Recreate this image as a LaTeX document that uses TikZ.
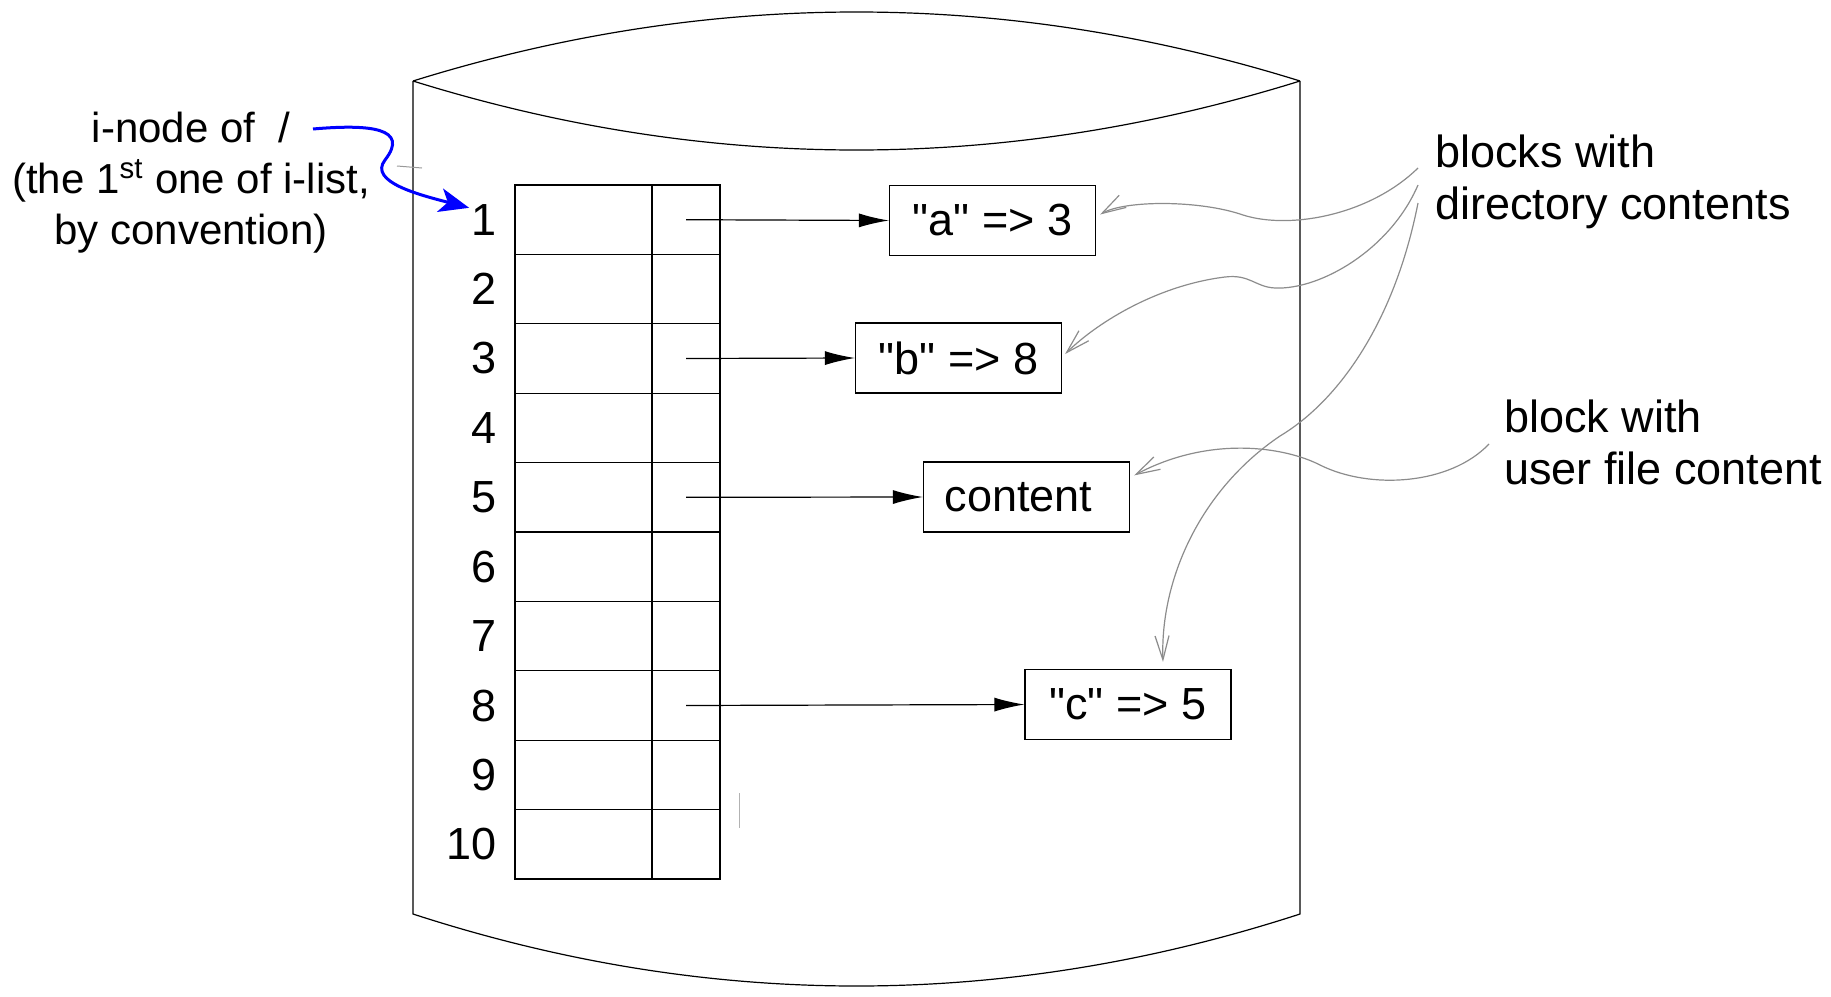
\documentclass[tikz,border=0pt]{standalone}
\usepackage{fontspec}
\setmainfont{Liberation Sans}[Ligatures=TeXOff]
\usetikzlibrary{arrows.meta,calc}
\begin{document}
\begin{tikzpicture}[x=0.5pt,y=-0.5pt,
  every node/.style={font=\fontsize{22.5}{26}\selectfont},
  ink/.style={line width=0.6pt, draw=black},
  cellname/.style={draw, line width=0.6pt, minimum width=68.5pt, minimum height=34.7pt, inner sep=0pt},
  cellptr/.style={draw, line width=0.6pt, minimum width=34pt, minimum height=34.7pt, inner sep=0pt},
  rowno/.style={anchor=east, inner sep=0pt},
  blockbox/.style={draw, line width=0.6pt, minimum width=103pt, minimum height=35pt, inner sep=0pt},
  ptr/.style={line width=0.6pt, -{Latex[length=15pt,width=7pt]}},
  note/.style={align=left, inner sep=0pt, anchor=west},
  hint/.style={draw=black!45, line width=0.6pt, -{Straight Barb[length=12pt,width=7pt]}},
  rootarrow/.style={draw=blue, line width=1.5pt, -{Stealth[length=15pt,width=12pt,inset=4pt]}}
]
\useasboundingbox (0,0) rectangle (1831,996);

% disk drawn as a cylinder
\draw[ink] (413,81) .. controls (708.3,-11) and (1004.7,-11) .. (1300,81);
\draw[ink] (413,81) .. controls (708.3,173) and (1004.7,173) .. (1300,81);
\draw[ink] (413,81) -- (413,914) .. controls (708.3,1010) and (1004.7,1010) .. (1300,914) -- (1300,81);

% faint marks
\draw[black!40, line width=0.5pt] (397,166) -- (422,168);
\draw[black!30, line width=0.5pt] (739,793) -- (739,828);

% i-list table
\foreach \i in {1,...,10} {
  \node[cellname] (c\i) at (583.5,{185+69.4*(\i-0.5)}) {};
  \node[cellptr]  (p\i) at (686,{185+69.4*(\i-0.5)}) {};
  \node[rowno]    (n\i) at (497,{185+69.4*(\i-0.5)}) {\i};
}

% data blocks
\node[blockbox] (a) at (992.5,220.5) {"a" => 3};
\node[blockbox] (b) at (958.5,358) {"b" => 8};
\node[blockbox] (content) at (1026.5,497) {content\hspace*{8pt}};
\node[blockbox] (c) at (1128,704.5) {"c" => 5};

\draw[ptr] (p1.center) -- (a.west);
\draw[ptr] (p3.center) -- (b.west);
\draw[ptr] (p5.center) -- (content.west);
\draw[ptr] (p8.center) -- (c.west);

% annotations
\node[align=center, inner sep=0pt, font=\fontsize{21}{25.5}\selectfont] (rootlab) at (191,183)
  {i-node of\ \ /\\(the 1\textsuperscript{st} one of i-list,\\by convention)};
\node[note] (dirlab) at (1435,182) {blocks with\\directory contents};
\node[note] (filelab) at (1504,442) {block with\\user file content};

\coordinate (r0) at (313,129);
\coordinate (s1) at (1418,168);
\coordinate (s2) at (1418,185);
\coordinate (s3) at (1418,203);
\coordinate (s4) at (1489,444);

\draw[rootarrow] (r0) .. controls (370,124) and (410,128) .. (385,160)
  .. controls (368,182) and (420,195) .. ($(n1.north west)+(-2,4)$);

\draw[hint] (s1) .. controls (1370,215) and (1290,230) .. (1243,215)
  .. controls (1200,200) and (1125,200) .. ($(a.east)+(4,-6)$);
\draw[hint] (s2) .. controls (1390,250) and (1320,290) .. (1275,288)
  .. controls (1255,287) and (1250,274) .. (1225,277)
  .. controls (1160,285) and (1100,320) .. ($(b.east)+(3,-4)$);
\draw[hint] (s3) .. controls (1395,320) and (1340,400) .. (1280,436)
  .. controls (1200,490) and (1160,580) .. ($(c.north)+(35,-7)$);
\draw[hint] (s4) .. controls (1450,485) and (1370,490) .. (1320,465)
  .. controls (1285,447) and (1210,435) .. ($(content.north east)+(4,14)$);
\end{tikzpicture}
\end{document}
